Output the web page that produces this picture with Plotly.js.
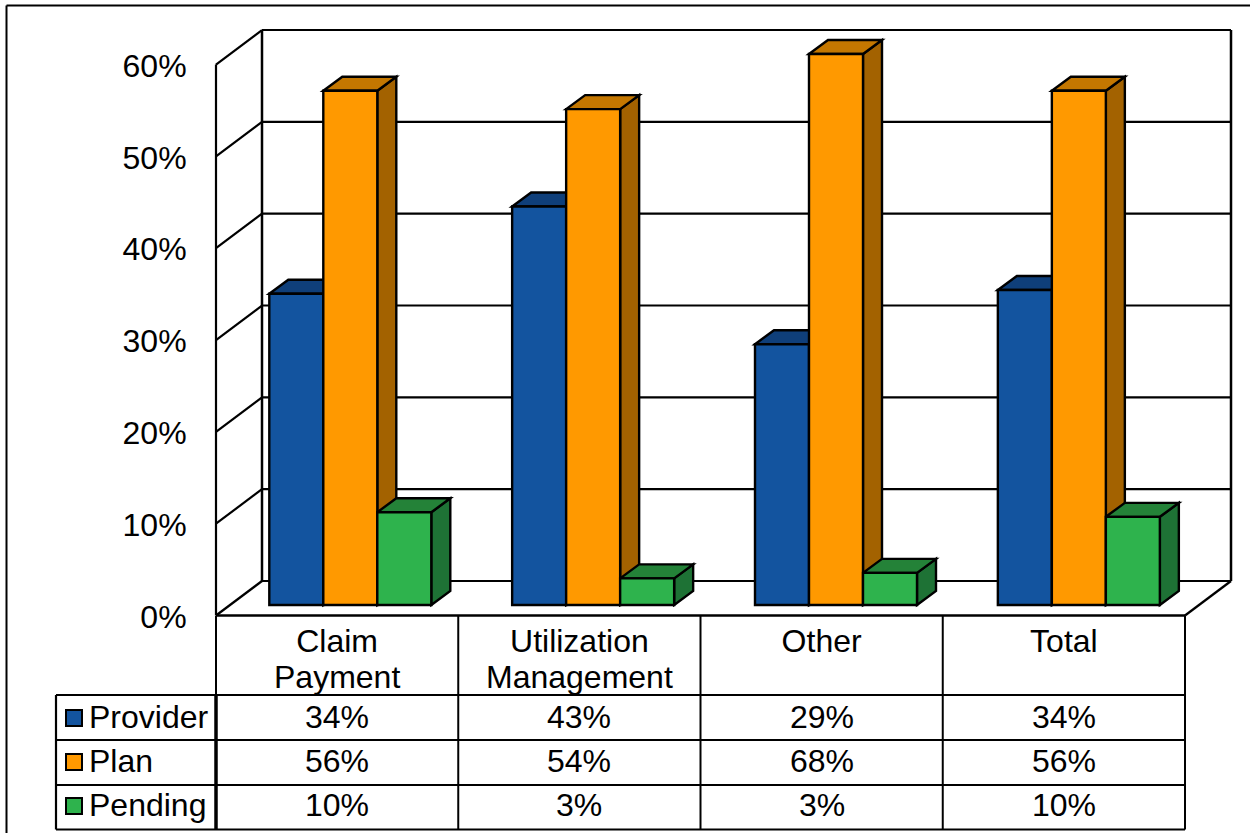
<!DOCTYPE html>
<html>
<head>
<meta charset="utf-8">
<script src="https://cdn.plot.ly/plotly-3.0.1.min.js"></script>
<style>html,body{margin:0;padding:0;background:#fff}#chart{width:1250px;height:833px}</style>
</head>
<body>
<div id="chart"></div>
<script>
// ---- data ----
const categories = ['Claim Payment', 'Utilization Management', 'Other', 'Total'];
const categoryLines = [['Claim', 'Payment'], ['Utilization', 'Management'], ['Other'], ['Total']];
const seriesNames = ['Provider', 'Plan', 'Pending'];
const provider = [33.9, 43.4, 28.4, 34.3];
const plan = [56, 54, 68, 56];
const pending = [10.1, 2.9, 3.5, 9.6];
const providerLabels = ['34%', '43%', '29%', '34%'];
const planLabels = ['56%', '54%', '68%', '56%'];
const pendingLabels = ['10%', '3%', '3%', '10%'];
const yTicks = [0, 10, 20, 30, 40, 50, 60];
const yTickLabels = ['0%', '10%', '20%', '30%', '40%', '50%', '60%'];
const yMax = 60;

// ---- styling / layout constants ----
const W = 1250, H = 833;
const FONT = '"Liberation Sans", Arial, sans-serif';
const left = 216, catPx = 242.25, zeroPx = 615.5, pctPx = 9.183;
const front = [['#13549f', '#0f3f7a', '#0f3f7a'], ['#ff9900', '#c47700', '#a36200'], ['#2eb34d', '#248238', '#1e7235']];
const seriesVals = [provider, plan, pending];
const seriesLabels = [providerLabels, planLabels, pendingLabels];

const dx = px => px / catPx, dy = px => px / pctPx;
const X = px => (px - left) / catPx;      // page px -> x axis unit (layout furniture only)
const Y = py => (zeroPx - py) / pctPx;    // page px -> y axis unit (layout furniture only)

const wallX = dx(46), wallY = dy(34.5);
const depthX = dx(19), depthY = dy(14);
const barBase = dy(10.5), barW = dx(54), barStart = dx(53.3), barDrift = dx(0.6);
const nCat = categories.length;
const catX = categories.map((_, i) => i + 0.5);
const barLeft = (i, s) => i + barStart + i * barDrift + s * barW;

const shapes = [];
const line = (x0, y0, x1, y1, w) => shapes.push({type: 'line', xref: 'x', yref: 'y', x0, y0, x1, y1, layer: 'below', line: {color: '#000', width: w || 2.2}});
const poly = (pts, fill) => shapes.push({type: 'path', xref: 'x', yref: 'y', layer: 'below',
  path: 'M' + pts.map(p => p[0] + ',' + p[1]).join(' L') + ' Z', fillcolor: fill, line: {color: '#000', width: 2.4}});

// chart frame
shapes.push({type: 'line', xref: 'paper', yref: 'paper', x0: 6.5 / W, x1: 1, y0: 1 - 5.5 / H, y1: 1 - 5.5 / H, line: {color: '#000', width: 2}});
shapes.push({type: 'line', xref: 'paper', yref: 'paper', x0: 6.5 / W, x1: 6.5 / W, y0: 0, y1: 1 - 5.5 / H, line: {color: '#000', width: 2}});

// walls and gridlines
yTicks.forEach(v => {
  line(0, v, wallX, v + wallY);
  line(wallX, v + wallY, nCat + wallX, v + wallY);
});
line(0, 0, 0, yMax);
line(wallX, wallY, wallX, yMax + wallY, 2.5);
line(nCat + wallX, wallY, nCat + wallX, yMax + wallY, 2.5);
line(0, 0, nCat, 0, 2.5);
line(nCat, 0, nCat + wallX, wallY);

// 3D faces for bars (fronts are the bar traces, drawn on top)
seriesVals.forEach((vals, s) => {
  vals.forEach((v, i) => {
    const x0 = barLeft(i, s), x1 = x0 + barW;
    const b = barBase, t = barBase + Math.min(v, yMax);
    poly([[x1, b], [x1 + depthX, b + depthY], [x1 + depthX, t + depthY], [x1, t]], front[s][2]);
    poly([[x0, t], [x0 + depthX, t + depthY], [x1 + depthX, t + depthY], [x1, t]], front[s][1]);
  });
});

// data table grid
const rowY = [695, 740, 785, 829.5];
for (let i = 0; i <= nCat; i++) line(i, Y(616), i, Y(829.5), 2);
line(0, Y(695), 0, Y(829.5), 3.5);
rowY.forEach(py => line(X(56), Y(py), nCat, Y(py)));
line(X(56), Y(695), X(56), Y(829.5));

// bars
const traces = seriesVals.map((vals, s) => ({
  type: 'bar', name: seriesNames[s], x: catX,
  y: vals.map(v => Math.min(v, yMax)),
  base: catX.map(() => barBase),
  width: barW, offset: catX.map((c, i) => barLeft(i, s) - c),
  marker: {color: front[s][0], line: {color: '#000', width: 2.4}},
  showlegend: false, hoverinfo: 'skip'
}));

// legend keys inside the data table
const rowMid = [718, 762, 806];
seriesNames.forEach((n, s) => traces.push({
  type: 'scatter', mode: 'markers', name: n + ' key', x: [X(74)], y: [Y(rowMid[s])],
  marker: {symbol: 'square', size: 16, color: front[s][0], line: {color: '#000', width: 2}},
  showlegend: false, hoverinfo: 'skip'
}));

// table text
const annotations = [];
seriesNames.forEach((n, s) => {
  annotations.push({xref: 'x', yref: 'y', x: X(87), y: Y(rowMid[s] - 1), xanchor: 'left', yanchor: 'middle',
    text: n, showarrow: false, font: {family: FONT, size: 32, color: '#000'}});
  seriesLabels[s].forEach((t, i) => annotations.push({xref: 'x', yref: 'y', x: catX[i], y: Y(rowMid[s] - 1), xanchor: 'center', yanchor: 'middle',
    text: t, showarrow: false, font: {family: FONT, size: 32, color: '#000'}}));
});

const layout = {
  width: W, height: H, margin: {l: 0, r: 0, t: 0, b: 0},
  paper_bgcolor: '#fff', plot_bgcolor: '#fff', barmode: 'overlay', showlegend: false,
  font: {family: FONT, color: '#000'},
  xaxis: {range: [X(0), X(W)], domain: [0, 1], anchor: 'free', position: (H - 616) / H,
    tickmode: 'array', tickvals: catX,
    ticktext: categoryLines.map(l => l.map(t => '<span style="font-size:32px">' + t + '</span>').join('<br>')),
    tickfont: {family: FONT, size: 28, color: '#000'}, tickangle: 0,
    ticks: 'outside', ticklen: 1, tickcolor: 'rgba(0,0,0,0)', showgrid: false, zeroline: false, showline: false},
  yaxis: {range: [Y(H), Y(0)], domain: [0, 1], anchor: 'free', position: left / W,
    tickmode: 'array', tickvals: yTicks, ticktext: yTickLabels, ticklabelshift: 1,
    tickfont: {family: FONT, size: 32, color: '#000'},
    ticks: 'outside', ticklen: 23, tickcolor: 'rgba(0,0,0,0)', showgrid: false, zeroline: false, showline: false},
  shapes, annotations
};
Plotly.newPlot('chart', traces, layout, {displayModeBar: false, responsive: false});
</script>
</body>
</html>
